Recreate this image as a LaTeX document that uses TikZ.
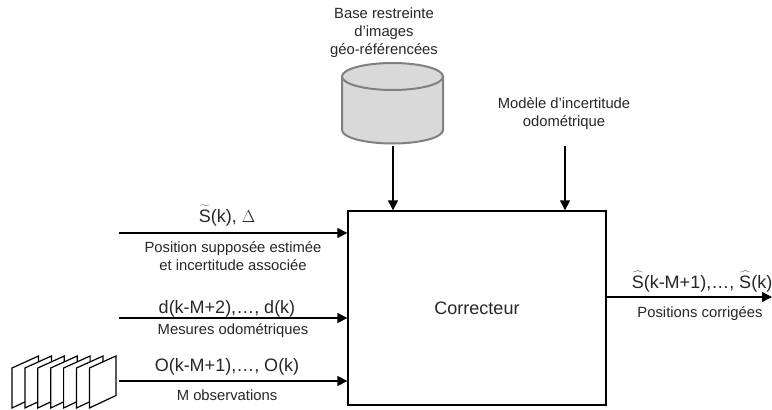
\documentclass[tikz,border=0pt]{standalone}
\usepackage{fontspec}
\setmainfont{Liberation Sans}
\usetikzlibrary{arrows.meta,positioning,calc}
\newcommand{\surS}[1]{{\ooalign{S\cr\hidewidth\raisebox{1.5pt}{$#1{\phantom{\mbox{S}}}$}\hidewidth\cr}}}
\tikzset{
	fleche/.style={line width=1.3pt,-{Triangle[length=10pt,width=10pt]}},
	legende/.style={inner sep=0pt,align=center,font=\fontsize{14.8}{18}\selectfont,text=black!85},
	signal/.style={inner sep=0pt,anchor=base,align=center,font=\fontsize{18}{18}\selectfont,text=black!85},
	cliche/.style={draw=black,line width=1.2pt,fill=white},
	cuve/.style={draw=black!50,line width=2pt,fill=black!15},
}

\begin{document}
\begin{tikzpicture}[x=1pt,y=-1pt]
	\useasboundingbox (0,0) rectangle (772,410);
	\node[draw,line width=1.3pt,minimum width=258pt,minimum height=194pt,inner sep=0pt,font=\fontsize{18}{24}\selectfont,text=black!85] (correcteur) at (477,308) {Correcteur};
	%
	\draw[cuve] (342,76.5) -- (342,130) arc[start angle=180,end angle=360,x radius=50.5pt,y radius=13.5pt] -- (443,76.5);
	\draw[cuve] (392.5,76.5) ellipse [x radius=50.5pt,y radius=13.5pt];
	%
	\node[legende] (base text) at (384,33) {Base restreinte\\d’images\\géo-référencées};
	\node[legende] (modele text) at (564,114) {Modèle d’incertitude\\odométrique};
	\node[signal] (estime) at (227,222) {\surS{\widetilde}(k), $\Delta$};
	\node[legende] (estime text) at (233,256) {Position supposée estimée\\et incertitude associée};
	\node[signal] (mesure) at (227,313) {d(k-M+2),…, d(k)};
	\node[legende] (mesure text) at (233,331) {Mesures odométriques};
	\node[signal] (observe) at (227,371) {O(k-M+1),…, O(k)};
	\node[legende] (observe text) at (227,395) {M observations};
	\node[signal] (sortie) at (702,288) {\surS{\widehat}(k-M+1),…, \surS{\widehat}(k)};
	\node[legende] (sortie text) at (700,314) {Positions corrigées};
	%
	\coordinate (e1) at (119,233);
	\coordinate (e2) at (119,318);
	\coordinate (e3) at (119,381);
	\coordinate (h1) at (393,146);
	\coordinate (h2) at (565,146);
	\coordinate (s1) at (772,297);
	%
	\foreach \i in {0,...,6}{
		\draw[cliche] (12+12.9*\i,368) -- (38.5+12.9*\i,356) -- (38.5+12.9*\i,395.5) -- (12+12.9*\i,408) -- cycle;
	}
	%
	\draw[fleche] (e1) -- (e1 -| correcteur.west);
	\draw[fleche] (e2) -- (e2 -| correcteur.west);
	\draw[fleche] (e3) -- (e3 -| correcteur.west);
	\draw[fleche] (h1) -- (h1 |- correcteur.north);
	\draw[fleche] (h2) -- (h2 |- correcteur.north);
	\draw[fleche] (s1 -| correcteur.east) -- (s1);
\end{tikzpicture}
\end{document}
